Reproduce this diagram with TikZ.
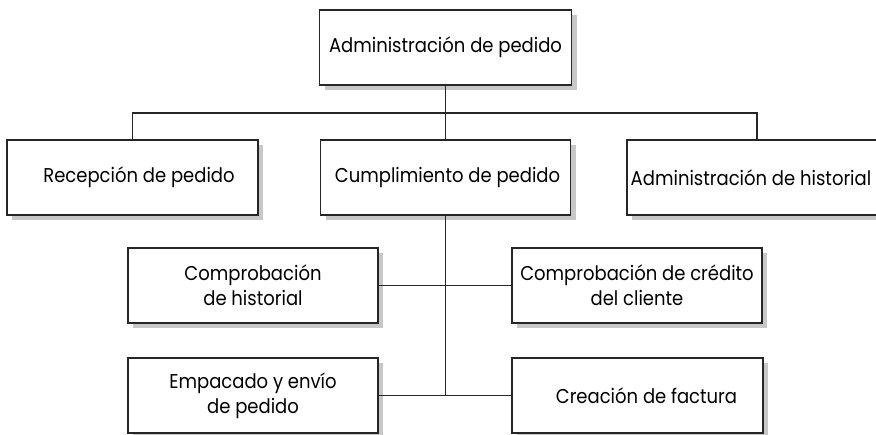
\documentclass[tikz,border=0pt]{standalone}
\usepackage{fontspec}
\setmainfont{Poppins}[FakeStretch=0.9]
\usetikzlibrary{shadows}
\begin{document}
\begin{tikzpicture}[x=1pt,y=-1pt,
  box/.style={draw=black!85, line width=1.1pt, fill=white, rectangle, inner sep=0pt,
    minimum width=250pt, minimum height=75pt, align=center,
    font=\fontsize{20}{25}\selectfont,
    drop shadow={shadow xshift=5pt, shadow yshift=-5pt, fill=black!22, opacity=1}},
  link/.style={draw=black!85, line width=1.1pt}]
\useasboundingbox (0,0) rectangle (876,434);
\fill[white] (0,0) rectangle (876,434);
\node[box, minimum width=252pt] (top) at (445.5,47.5) {Administración de pedido};
\node[box, minimum width=251pt] (recep) at (132.5,177.5) {\hspace*{13pt}Recepción de pedido};
\node[box] (cumpl) at (445.5,177.5) {\hspace*{4pt}Cumplimiento de pedido};
\node[box, minimum width=260pt] (hist) at (757,177.5) {Administración de historial\hspace*{12pt}};
\node[box] (comph) at (253,285.5) {Comprobación\\de historial\hspace*{0pt}};
\node[box] (cred) at (637,285.5) {Comprobación de crédito\\del cliente};
\node[box] (empac) at (253,395.5) {Empacado y envío\\de pedido};
\node[box, minimum width=251pt] (fact) at (637.5,395.5) {\hspace*{18pt}Creación de factura};
\coordinate (bus) at (445.5,113);
\draw[link] (top.south) -- (bus);
\draw[link] (recep.north) -- (recep.north |- bus) -- (hist.north |- bus) -- (hist.north);
\draw[link] (bus) -- (cumpl.north);
\draw[link] (cumpl.south) -- (cumpl.south |- empac.east);
\draw[link] (comph.east) -- (cred.west);
\draw[link] (empac.east) -- (fact.west);
\end{tikzpicture}
\end{document}
